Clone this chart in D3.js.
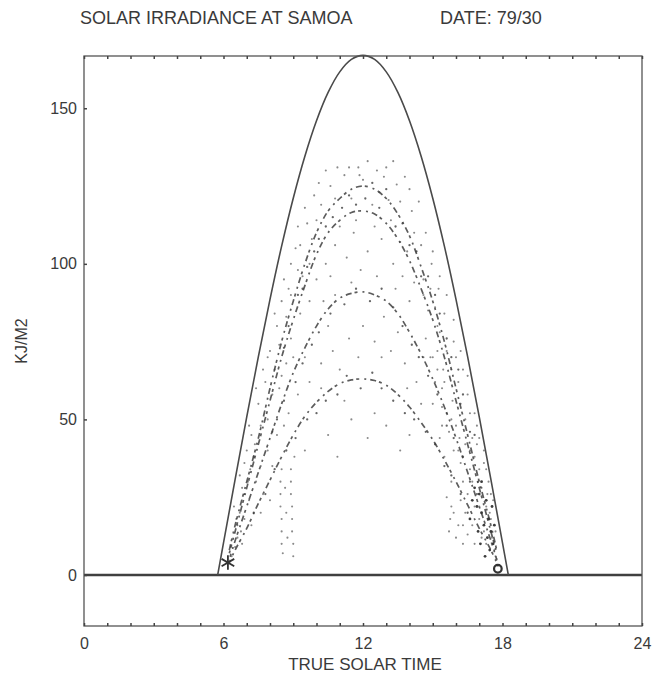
<!DOCTYPE html>
<html><head><meta charset="utf-8">
<script src="https://cdn.jsdelivr.net/npm/d3@7"></script>
<style>
html,body{margin:0;padding:0;background:#fff;}
svg{display:block;font-family:"Liberation Sans",Arial,Helvetica,sans-serif;}
</style></head><body>
<svg id="chart" width="658" height="682"></svg>
<script>
// Clear-sky envelope (KJ/M2 per interval) against true solar time
const envHours = [5.75, 6, 6.5, 7, 7.5, 8, 8.5, 9, 9.5, 10, 10.5, 11, 11.5, 12,
  12.5, 13, 13.5, 14, 14.5, 15, 15.5, 16, 16.5, 17, 17.5, 18, 18.25];
const envValues = [0, 10.3, 30.7, 50.8, 70.2, 88.6, 105.7, 121.1, 134.6, 146, 155.1, 161.7, 165.7, 167,
  165.7, 161.7, 155.1, 146, 134.6, 121.1, 105.7, 88.6, 70.2, 50.8, 30.7, 10.3, 0];

// Measured readings forming the four dense arcs
const bandHours = [6.25, 6.5, 7, 7.5, 8, 8.5, 9, 9.5, 10, 10.5, 11, 11.5, 12,
  12.5, 13, 13.5, 14, 14.5, 15, 15.5, 16, 16.5, 17, 17.5, 17.75];
const bandA = [8, 16, 30, 44, 60, 75, 88, 100, 110, 117, 121, 124, 125,
  124, 121, 116, 109, 99, 88, 75, 60, 45, 30, 16, 8];
const bandB = [7, 14, 28, 42, 56, 70, 82, 93, 103, 110, 114, 116.5, 117,
  116, 113, 108, 101, 92, 82, 70, 56, 42, 28, 14, 7];
const bandC = [5, 11, 22, 33, 44, 55, 65, 73, 80, 85.5, 89, 90.5, 91,
  90, 88, 84, 78, 71, 63, 54, 44, 33, 22, 11, 5];
const bandD = [4, 8, 15, 23, 30.5, 38, 45, 51, 55.5, 59, 61.5, 62.7, 63,
  62.5, 61, 58, 54, 49, 43.5, 37, 30, 22.5, 15, 8, 4];

// Scattered individual readings [hour, value]
const scatterLight = [
  [11.8,131],[11.85,128.5],[13.8,128],[13.45,125.5],[12.9,128],[11.2,128.5],[10.6,125],[14.4,120],[10.2,119],[9.6,113],
  [12.6,130],[14.1,117],[11.5,121],[13.1,120.5],[12.2,133],[10.9,131],[13.3,133],[9.9,122],[14.7,110],[9.3,106],
  [10.0,95],[10.4,100],[10.8,106],[11.3,102],[12.2,104],[12.8,108],[13.3,100],[13.7,96],[14.2,94],[14.6,90],
  [9.3,84],[9.7,88],[8.9,76],[10.6,96],[11.9,98],[13.9,104],[14.8,85],[15.2,80],[9.0,70],[8.7,68],
  [11.6,110],[12.5,112],[13.6,107],[10.3,88],
  [10.2,68],[10.7,72],[11.4,76],[12.5,75],[13.2,72],[13.8,68],[14.3,62],[9.7,62],[9.2,58],[8.8,52],
  [11.0,66],[12.0,80],[13.5,78],[15.0,55],[15.4,48],[11.8,70],[12.9,83],[10.5,80],[14.6,70],[9.5,70],
  [11.5,50],[12.5,52],[10.5,45],[13.0,48],[9.5,40],[14.0,45],[12.2,44],[10.9,38],[13.6,40],
  [7.0,40],[7.2,45],[7.5,55],[7.8,62],[8.0,72],[8.3,80],[8.5,88],[8.6,95],[8.9,100],[9.1,105],
  [7.6,35],[7.9,50],[8.2,66],[6.8,28],[7.3,38],[8.4,60],[8.7,83],[9.4,96],[9.8,108],[8.1,58],
  [6.6,12],[6.9,18],[7.1,24],[7.4,30],[7.7,26],[7.9,40],[8.1,35],[8.3,45],[8.6,48],[6.7,20],
  [7.2,16],[7.6,20],[8.0,24],[6.45,22],[6.9,36],[7.7,66],[8.2,84],
  [8.45,30],[8.45,26],[8.45,22],[8.5,18],[8.5,14],[8.5,10],[8.55,7],[8.9,34],[8.9,30],[8.9,26],
  [8.95,22],[8.95,18],[8.95,14],[9.0,10],[9.0,6],[8.65,28],[8.7,20],[8.75,12],[8.5,34],[9.05,38],
  [14.6,95],[14.9,92],[15.1,86],[15.3,78],[15.5,84],[15.6,72],[15.8,66],[15.9,75],[16.1,62],[16.2,55],
  [16.4,50],[16.5,58],[16.7,44],[16.8,38],[16.9,48],[17.0,34],[17.1,28],[17.2,36],[17.3,22],[17.4,30],
  [17.5,18],[17.55,12],[17.6,24],[17.65,8],[17.7,14],
  [15.0,70],[15.2,66],[15.4,60],[15.6,52],[15.7,46],[15.9,40],[16.0,48],[16.2,36],[16.3,30],[16.5,26],
  [16.6,34],[16.8,22],[17.0,18],[17.1,12],[17.3,10],[16.4,20],[16.7,16],[15.8,30],[15.5,38],[15.3,44],
  [14.7,76],[14.9,70],[15.1,62],[15.4,54],[16.0,70],[16.3,66],[16.6,52],[16.9,42],[17.2,40],
  [15.7,14],[15.75,18],[15.8,22],[16.0,12],[16.1,16],[16.3,10],[16.5,13],[16.2,24],[15.6,25],[15.9,20],
  [17.75,5],[17.8,3],[17.7,6],[17.45,20],[17.35,26],[16.95,30],[16.6,40],[16.15,44],[15.85,56],[15.45,66],
  [15.25,92],[14.95,100],
  [6.35,6],[6.5,9],[6.6,16],[6.75,14],[6.9,26],[7.05,30],[7.15,34],[7.35,42],[6.55,18],[6.8,10],
  [10.1,126],[10.4,130],[10.8,121],[11.0,112],[11.4,131],[11.7,114],[12.0,127],[12.4,119],[12.7,123],[13.0,131],
  [13.2,114],[13.6,120],[14.0,124],[14.2,110],[14.5,106],[9.7,100],[9.5,118],[10.0,114],[9.2,98],[8.9,90],
  [7.4,60],[7.9,70],[8.4,74],[8.8,92],[9.2,112],[7.1,48],[6.7,32],[7.6,48],[8.5,64],[8.1,46],
  [15.0,104],[15.3,96],[15.6,90],[15.9,82],[16.2,72],[16.5,64],[16.8,52],[17.0,44],[17.3,34],[17.5,26],
  [15.2,72],[15.5,62],[15.8,50],[16.1,40],[16.4,42],[16.7,30],[17.0,22],[17.2,14],[16.8,10],[16.3,16],
  [10.8,90],[11.5,94],[12.6,96],[13.4,92],[14.0,88],[10.2,60],[11.2,56],[12.8,70],[13.9,60],[14.5,55]
];
// Readings lying close to the arcs
const scatterNearBands = [
  [8.6,73],[8.8,80],[9.2,90],[9.4,92],[9.6,99],[9.9,104],[10.1,108],[10.4,112],[10.7,115],[11.1,118],
  [11.4,122],[11.7,119],[12.1,121],[12.4,126],[12.7,118],[13.0,124],[13.4,112],[13.7,113],[14.0,106],[14.3,104],
  [14.5,96],[14.8,96],[15.1,90],[15.3,84],[15.6,76],[15.8,70],[16.1,66],[16.3,58],[16.6,46],[16.8,45],
  [8.3,50],[8.6,56],[9.1,62],[9.4,68],[9.8,74],[10.1,78],[10.6,84],[11.2,87],[11.7,92],[12.3,88],
  [12.8,92],[13.3,86],[13.7,80],[14.1,74],[14.4,70],[14.8,64],[15.2,58],[15.6,48],[15.9,44],[16.3,38],
  [16.6,30],[16.9,26],
  [7.3,20],[7.8,26],[8.2,34],[8.7,40],[9.1,44],[9.6,50],[10.0,52],[10.4,56],[10.9,58],[11.3,64],
  [11.9,60],[12.4,65],[12.8,60],[13.3,56],[13.8,52],[14.2,50],[14.7,46],[15.1,42],[15.5,35],[15.8,32],
  [16.2,26],[16.5,20]
];
const scatterDark = [
  [16.9,22],[17.0,26],[17.1,20],[17.2,16],[17.3,24],[17.35,12],[17.4,18],[17.45,8],[17.5,14],[17.55,22],
  [17.6,10],[17.1,30],[16.8,28],[16.95,14],[17.25,6],[16.7,24],[16.6,18],[17.65,16],[17.05,10]
];

// Sunrise / sunset markers
const sunriseMark = [6.19, 4];
const sunsetMark = [17.8, 2];

// Axis ticks and labels
const xTicks = d3.range(0, 25, 1);
const xLabelled = [0, 6, 12, 18, 24];
const yTicks = [0, 50, 100, 150];

const titleText = "SOLAR IRRADIANCE AT SAMOA";
const dateText = "DATE: 79/30";
const xTitle = "TRUE SOLAR TIME";
const yTitle = "KJ/M2";

const svg = d3.select("#chart");
const plotL = 84, plotR = 642, plotT = 56, plotB = 626;

const x = d3.scaleLinear().domain([0, 24]).range([plotL, plotR]);
const y = d3.scaleLinear().domain([-16.4, 166.8]).range([plotB, plotT]);

const ink = "#3a3a3a";

// Titles
svg.append("text").attr("x", 80).attr("y", 24).attr("font-size", 18).attr("fill", ink)
  .text(titleText);
svg.append("text").attr("x", 440).attr("y", 24).attr("font-size", 18).attr("fill", ink)
  .text(dateText);

// Data layers
const g = svg.append("g");

// zero line across the day
g.append("line").attr("x1", x(0)).attr("x2", x(24)).attr("y1", y(0)).attr("y2", y(0))
  .attr("stroke", "#404040").attr("stroke-width", 2.6);

// scattered readings
g.append("g").selectAll("circle").data(scatterLight).join("circle")
  .attr("cx", d => x(d[0])).attr("cy", d => y(d[1])).attr("r", 1.05)
  .attr("fill", "#8a8a8a");
g.append("g").selectAll("circle").data(scatterNearBands).join("circle")
  .attr("cx", d => x(d[0])).attr("cy", d => y(d[1])).attr("r", 1.15)
  .attr("fill", "#666");
g.append("g").selectAll("circle").data(scatterDark).join("circle")
  .attr("cx", d => x(d[0])).attr("cy", d => y(d[1])).attr("r", 1.4)
  .attr("fill", "#3c3c3c");

// arcs of dense readings
const bandLine = d3.line().x((d, i) => x(bandHours[i])).y(d => y(d)).curve(d3.curveCatmullRom.alpha(0.5));
[bandA, bandB, bandC, bandD].forEach((band, k) => {
  g.append("path").attr("d", bandLine(band)).attr("fill", "none")
    .attr("stroke", "#333").attr("stroke-width", 1.7)
    .attr("stroke-dasharray", "6 3 3 5 2 4").attr("stroke-dashoffset", k * 3)
    .attr("opacity", 0.8);
});

// clear-sky envelope
const envLine = d3.line().x((d, i) => x(envHours[i])).y(d => y(d)).curve(d3.curveCatmullRom.alpha(0.5));
g.append("path").attr("d", envLine(envValues)).attr("fill", "none")
  .attr("stroke", "#4a4a4a").attr("stroke-width", 1.6);

// markers
const star = d3.symbolAsterisk || d3.symbolCross;
g.append("path").attr("d", d3.symbol().type(star).size(150)())
  .attr("transform", `translate(${x(sunriseMark[0])},${y(sunriseMark[1])})`)
  .attr("fill", "none").attr("stroke", "#333").attr("stroke-width", 1.8);
g.append("circle").attr("cx", x(sunsetMark[0])).attr("cy", y(sunsetMark[1])).attr("r", 3.8)
  .attr("fill", "none").attr("stroke", "#333").attr("stroke-width", 2.2);

// Frame
svg.append("rect").attr("x", plotL).attr("y", plotT).attr("width", plotR - plotL).attr("height", plotB - plotT)
  .attr("fill", "none").attr("stroke", "#555").attr("stroke-width", 1.3);

// Axes
const axisStyle = sel => {
  sel.select(".domain").remove();
  sel.selectAll(".tick line").attr("stroke", "#444").attr("stroke-width", 1.5);
  sel.selectAll(".tick text").attr("fill", ink).attr("font-size", 16)
    .attr("font-family", '"Liberation Sans",Arial,Helvetica,sans-serif');
};
svg.append("g").attr("transform", `translate(0,${plotB})`)
  .call(d3.axisBottom(x).tickValues(xTicks).tickSize(-3).tickPadding(12)
    .tickFormat(d => xLabelled.includes(d) ? d : ""))
  .call(axisStyle);
svg.append("g").attr("transform", `translate(0,${plotT})`)
  .call(d3.axisTop(x).tickValues(xTicks).tickSize(-3).tickFormat(""))
  .call(axisStyle);
svg.append("g").attr("transform", `translate(${plotL},0)`)
  .call(d3.axisLeft(y).tickValues(yTicks).tickSize(-3).tickPadding(7))
  .call(axisStyle);

// Axis titles
svg.append("text").attr("x", (plotL + plotR) / 2 + 2).attr("y", 670).attr("text-anchor", "middle")
  .attr("font-size", 17).attr("fill", ink).text(xTitle);
svg.append("text").attr("transform", `translate(27,${(plotT + plotB) / 2}) rotate(-90)`)
  .attr("text-anchor", "middle").attr("font-size", 16).attr("fill", ink).text(yTitle);
</script></body></html>
